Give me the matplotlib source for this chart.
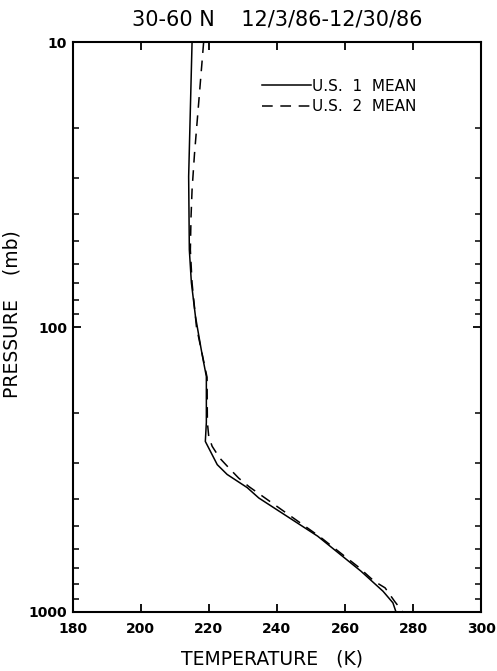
import matplotlib
matplotlib.use('Agg')
import matplotlib.pyplot as plt
from matplotlib.ticker import FixedLocator, NullFormatter

# U.S. 1 mean profile (temperature K vs pressure mb)
p_us1 = [10, 23.8, 29.6, 53.5, 69.8, 91.8, 120, 133, 149, 216, 252, 304, 329,
         366, 398, 542, 719, 846, 929, 1000]
t_us1 = [215.1, 214.3, 214.1, 214.3, 214.9, 216.1, 217.8, 218.5, 219.3, 219.3,
         219.0, 222.5, 225.4, 231.3, 234.7, 252.0, 264.7, 271.2, 274.1, 275.0]

# U.S. 2 mean profile
p_us2 = [10, 24.8, 33, 41, 53.5, 70, 100, 150, 216, 242, 262, 288, 312, 339,
         363, 544, 693, 780, 823, 918, 1000]
t_us2 = [218.5, 215.8, 215.1, 214.8, 214.6, 215.1, 216.4, 219.5, 219.6, 220.0,
         221.0, 223.2, 225.9, 228.8, 231.8, 252.6, 263.8, 268.6, 271.8, 274.6,
         277.0]

x_ticks = [180, 200, 220, 240, 260, 280, 300]
y_ticks = [10, 100, 1000]
y_minor = [20, 30, 40, 50, 60, 70, 80, 90, 200, 300, 400, 500, 600, 700, 800, 900]

fig = plt.figure(figsize=(4.97, 6.71), dpi=100)
ax = fig.add_axes([0.146, 0.088, 0.822, 0.849])

ax.plot(t_us1, p_us1, color='black', lw=1.1, label='U.S.  1  MEAN')
ax.plot(t_us2, p_us2, color='black', lw=1.1, dashes=(7, 5), label='U.S.  2  MEAN')

ax.set_yscale('log')
ax.set_ylim(1000, 10)
ax.set_xlim(180, 300)
ax.yaxis.set_major_locator(FixedLocator(y_ticks))
ax.yaxis.set_minor_locator(FixedLocator(y_minor))
ax.yaxis.set_minor_formatter(NullFormatter())
ax.set_yticks(y_ticks)
ax.set_yticklabels([str(v) for v in y_ticks])
ax.set_xticks(x_ticks)

for s in ax.spines.values():
    s.set_linewidth(1.5)

ax.tick_params(axis='both', which='major', direction='in', length=6, width=1.3,
               top=True, right=True, labelsize=10, pad=4)
ax.tick_params(axis='x', which='major', pad=7)
ax.tick_params(axis='y', which='minor', direction='in', length=4, width=1.1,
               left=True, right=True)
for lab in ax.get_xticklabels() + ax.get_yticklabels():
    lab.set_fontweight('bold')

ax.set_xlabel('TEMPERATURE   (K)', fontsize=13.5)
ax.xaxis.set_label_coords(0.487, -0.066)
ax.set_ylabel('PRESSURE    (mb)', fontsize=13.5)
ax.yaxis.set_label_coords(-0.124, 0.523)
ax.set_title('30-60 N    12/3/86-12/30/86', fontsize=15, pad=12)

ax.legend(loc='upper left', bbox_to_anchor=(0.43, 0.96), frameon=False,
          handlelength=3.2, handletextpad=0.1, fontsize=11, labelspacing=0.35)

fig.savefig('out.png', dpi=100)
